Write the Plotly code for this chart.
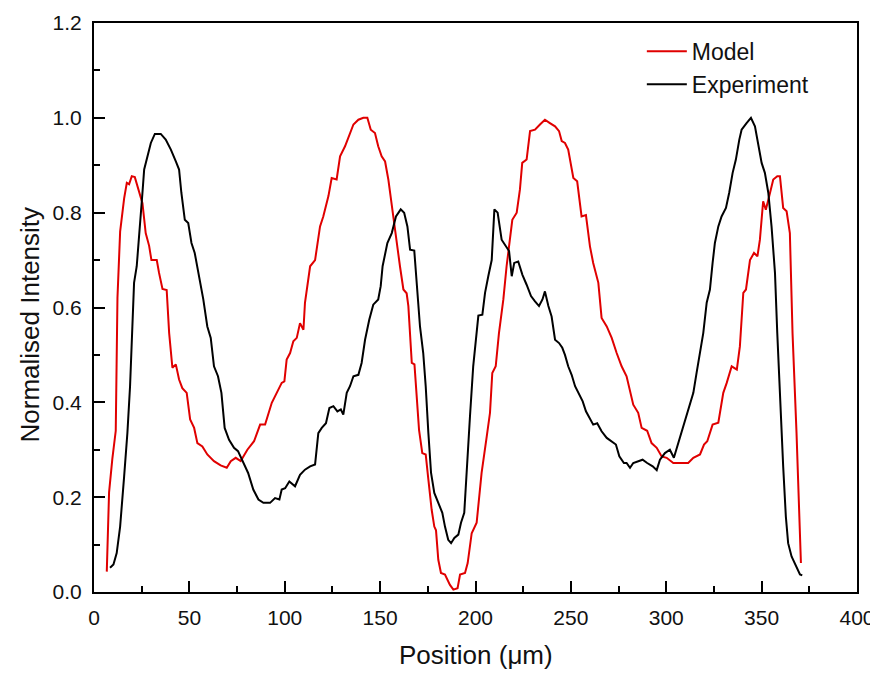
import plotly.graph_objects as go

model_x = [6.7, 7.9, 9.6, 11.4, 12.3, 13.7, 15.8, 17.2, 18.4, 19.8, 21.4, 22.8, 25.4, 27.1, 28.9, 30.1,
           32.9, 34.1, 35.9, 38.1, 39.4, 41.1, 42.9, 44.6, 46.3, 48.6, 50.4, 52.5, 54.2, 56.8, 59.4,
           62.9, 66.4, 69.6, 71.7, 74.3, 76.9, 80.4, 83.9, 87.1, 89.7, 93.2, 95.8, 98.4, 99.8, 101.0,
           102.8, 104.5, 106.3, 108.0, 109.8, 110.6, 113.3, 115.9, 118.5, 120.2, 122.9, 124.6, 127.2,
           129.0, 131.6, 134.2, 136.0, 138.6, 141.2, 143.3, 145.1, 147.3, 149.0, 150.8, 152.6, 154.3,
           156.1, 158.7, 160.4, 162.2, 163.9, 164.8, 166.6, 168.0, 169.2, 170.4, 172.1, 173.9, 175.3,
           177.0, 178.4, 179.3, 180.5, 181.9, 184.0, 186.6, 188.4, 190.6, 191.9, 194.5, 195.9, 198.0,
           200.6, 203.2, 205.9, 207.6, 208.8, 210.6, 212.3, 214.6, 216.3, 218.1, 219.3, 221.6, 223.3,
           224.5, 226.8, 228.6, 231.2, 233.8, 236.4, 239.0, 241.7, 243.8, 245.2, 246.9, 248.6, 251.3,
           253.3, 255.6, 257.9, 260.0, 261.7, 264.4, 266.1, 268.8, 271.4, 274.0, 276.6, 279.2, 281.0,
           282.7, 285.3, 287.1, 290.0, 292.3, 295.0, 297.6, 300.2, 303.7, 311.5, 314.2, 317.7, 319.8,
           321.5, 324.3, 327.3, 329.9, 331.7, 334.3, 337.0, 338.6, 340.4, 341.8, 343.9, 346.0, 347.8,
           349.1, 350.8, 352.2, 354.0, 356.1, 358.2, 359.6, 361.3, 363.1, 364.8, 366.2, 368.3, 370.6]
model_y = [0.043, 0.21, 0.28, 0.34, 0.62, 0.76, 0.83, 0.863, 0.86, 0.877, 0.875, 0.856, 0.82, 0.757, 0.73, 0.70,
           0.70, 0.673, 0.639, 0.637, 0.546, 0.473, 0.48, 0.448, 0.43, 0.42, 0.364, 0.346, 0.314, 0.307, 0.29,
           0.276, 0.267, 0.262, 0.276, 0.283, 0.276, 0.30, 0.318, 0.353, 0.353, 0.399, 0.42, 0.441, 0.444, 0.49,
           0.504, 0.529, 0.536, 0.567, 0.553, 0.61, 0.687, 0.70, 0.771, 0.792, 0.835, 0.873, 0.87,
           0.919, 0.94, 0.968, 0.986, 0.996, 1.0, 1.0, 0.975, 0.968, 0.94, 0.919, 0.908, 0.87,
           0.813, 0.743, 0.687, 0.638, 0.63, 0.603, 0.483, 0.48, 0.406, 0.342, 0.293, 0.29, 0.237,
           0.174, 0.138, 0.13, 0.068, 0.04, 0.037, 0.015, 0.005, 0.008, 0.037, 0.04, 0.061, 0.124,
           0.146, 0.251, 0.328, 0.378, 0.462, 0.476, 0.546, 0.617, 0.687, 0.743, 0.785, 0.80, 0.849,
           0.905, 0.912, 0.972, 0.975, 0.986, 0.996, 0.989, 0.982, 0.972, 0.951, 0.947, 0.933, 0.873,
           0.866, 0.792, 0.795, 0.729, 0.694, 0.652, 0.578, 0.56, 0.536, 0.504, 0.476, 0.455, 0.427,
           0.395, 0.378, 0.346, 0.34, 0.314, 0.304, 0.286, 0.283, 0.272, 0.272, 0.283, 0.29, 0.311,
           0.318, 0.353, 0.357, 0.42, 0.441, 0.476, 0.469, 0.518, 0.631, 0.638, 0.70, 0.715, 0.708,
           0.743, 0.824, 0.806, 0.835, 0.87, 0.877, 0.877, 0.81, 0.803, 0.757, 0.546, 0.335, 0.061]

exp_x = [8.4, 10.2, 11.9, 13.7, 15.8, 17.5, 18.9, 20.1, 21.0, 22.4, 23.6, 25.4, 26.3, 28.0, 29.8, 31.9,
         35.0, 37.6, 40.3, 42.9, 44.6, 45.8, 47.6, 49.4, 51.1, 52.8, 55.1, 57.3, 59.4, 61.2, 62.9, 65.0,
         66.8, 68.5, 70.8, 73.4, 75.5, 78.3, 80.8, 83.5, 86.2, 88.8, 92.3, 94.9, 97.2, 98.4, 100.2,
         102.4, 105.4, 108.0, 110.6, 113.3, 115.9, 117.6, 119.4, 121.6, 123.4, 125.5, 127.6, 129.4,
         130.7, 132.5, 134.2, 136.0, 138.6, 140.3, 142.1, 144.3, 146.4, 149.0, 150.3, 151.3, 152.6,
         153.8, 156.1, 158.3, 160.8, 162.6, 164.3, 165.7, 167.9, 169.2, 170.9, 172.6, 173.9, 175.3,
         176.7, 178.4, 180.5, 182.6, 184.0, 185.7, 187.2, 188.9, 191.0, 192.4, 194.1, 195.4, 197.1,
         198.8, 200.3, 201.5, 203.6, 205.0, 206.7, 208.5, 209.9, 211.6, 213.7, 215.4, 217.6, 219.0,
         220.3, 222.4, 224.6, 226.8, 229.1, 231.2, 233.3, 235.1, 236.4, 238.2, 239.9, 241.7, 243.8,
         245.5, 246.9, 248.6, 250.4, 252.2, 253.9, 256.2, 257.9, 259.6, 261.7, 263.8, 266.1, 268.8,
         271.4, 273.6, 275.4, 277.8, 279.2, 281.0, 282.7, 285.3, 287.6, 290.0, 292.9, 295.0, 296.7,
         299.3, 301.9, 304.0, 306.3, 308.9, 311.5, 314.2, 315.9, 317.7, 319.4, 321.2, 322.9, 324.3,
         325.5, 327.3, 329.0, 331.3, 333.0, 334.8, 336.5, 338.3, 339.5, 342.1, 344.4, 346.5, 348.2,
         350.0, 351.7, 353.5, 355.2, 357.0, 358.2, 359.6, 361.3, 362.7, 363.9, 365.7, 368.0, 370.1, 371.3]
exp_y = [0.051, 0.058, 0.082, 0.138, 0.244, 0.335, 0.434, 0.581, 0.652, 0.687, 0.757, 0.842, 0.891, 0.919, 0.947, 0.966,
         0.966, 0.954, 0.933, 0.908, 0.891, 0.842, 0.785, 0.778, 0.736, 0.715, 0.666, 0.617, 0.56, 0.536, 0.476, 0.455,
         0.42, 0.346, 0.321, 0.304, 0.297, 0.272, 0.251, 0.216, 0.195, 0.188, 0.188, 0.198, 0.195, 0.216, 0.219,
         0.233, 0.223, 0.247, 0.258, 0.265, 0.269, 0.335, 0.346, 0.356, 0.388, 0.392, 0.381, 0.385,
         0.374, 0.42, 0.434, 0.455, 0.458, 0.483, 0.532, 0.574, 0.606, 0.617, 0.645, 0.687, 0.712,
         0.736, 0.757, 0.792, 0.807, 0.80, 0.771, 0.722, 0.72, 0.652, 0.56, 0.504, 0.434, 0.335,
         0.251, 0.209, 0.188, 0.167, 0.138, 0.11, 0.103, 0.114, 0.121, 0.146, 0.167, 0.265, 0.37,
         0.476, 0.539, 0.583, 0.585, 0.631, 0.666, 0.70, 0.807, 0.80, 0.743, 0.733, 0.719, 0.666,
         0.694, 0.697, 0.669, 0.648, 0.624, 0.613, 0.603, 0.617, 0.634, 0.603, 0.581, 0.532, 0.525,
         0.515, 0.50, 0.476, 0.458, 0.434, 0.42, 0.402, 0.381, 0.367, 0.353, 0.356, 0.339, 0.325,
         0.318, 0.311, 0.286, 0.272, 0.272, 0.262, 0.272, 0.276, 0.279, 0.272, 0.265, 0.257, 0.279,
         0.293, 0.30, 0.283, 0.314, 0.349, 0.385, 0.42, 0.462, 0.504, 0.546, 0.61, 0.638, 0.694,
         0.736, 0.771, 0.792, 0.81, 0.842, 0.884, 0.912, 0.954, 0.975, 0.989, 1.0, 0.982, 0.947,
         0.905, 0.884, 0.842, 0.771, 0.673, 0.546, 0.406, 0.265, 0.159, 0.103, 0.075, 0.054, 0.037, 0.035]

x_ticks = [0, 50, 100, 150, 200, 250, 300, 350, 400]
y_ticks = [0.0, 0.2, 0.4, 0.6, 0.8, 1.0, 1.2]
y_tick_labels = ["0.0", "0.2", "0.4", "0.6", "0.8", "1.0", "1.2"]
x_title = "Position (μm)"
y_title = "Normalised Intensity"

FONT = "Liberation Sans, Arial, sans-serif"
TXT = "#111111"

fig = go.Figure()
fig.add_trace(go.Scatter(x=model_x, y=model_y, mode="lines", name="Model",
                         line=dict(color="#e00000", width=2)))
fig.add_trace(go.Scatter(x=exp_x, y=exp_y, mode="lines", name="Experiment",
                         line=dict(color="#000000", width=2)))

axis_common = dict(showline=True, linecolor="black", linewidth=2, mirror=True,
                   ticks="inside", ticklen=11, tickwidth=2, tickcolor="black",
                   showgrid=False, zeroline=False, automargin=False,
                   tickfont=dict(family=FONT, size=21, color=TXT))

fig.update_xaxes(range=[0, 400], tickvals=x_ticks, ticklabelstandoff=6,
                 minor=dict(ticks="inside", ticklen=6, tickwidth=2, tickcolor="black", dtick=25, showgrid=False),
                 **axis_common)
fig.update_yaxes(range=[0, 1.2], tickvals=y_ticks, ticktext=y_tick_labels, ticklabelstandoff=6,
                 minor=dict(ticks="inside", ticklen=6, tickwidth=2, tickcolor="black", dtick=0.1, showgrid=False),
                 **axis_common)

fig.add_annotation(text=x_title, xref="paper", yref="paper", x=0.5, y=-0.111,
                   xanchor="center", yanchor="middle", showarrow=False,
                   font=dict(family=FONT, size=26, color=TXT))
fig.add_annotation(text=y_title, xref="paper", yref="paper", x=-0.084, y=0.47,
                   xanchor="center", yanchor="middle", showarrow=False, textangle=-90,
                   font=dict(family=FONT, size=26, color=TXT))

# the page body adds an 8px offset, so the figure is 8px smaller and margins compensate
fig.update_layout(
    width=870, height=665,
    margin=dict(l=86, r=21, t=15, b=81),
    plot_bgcolor="white", paper_bgcolor="white",
    showlegend=True,
    legend=dict(x=0.718, y=0.988, xanchor="left", yanchor="top",
                bgcolor="rgba(0,0,0,0)", borderwidth=0,
                font=dict(family=FONT, size=23, color=TXT),
                itemwidth=40, tracegroupgap=0),
)

fig.write_html("out.html")
